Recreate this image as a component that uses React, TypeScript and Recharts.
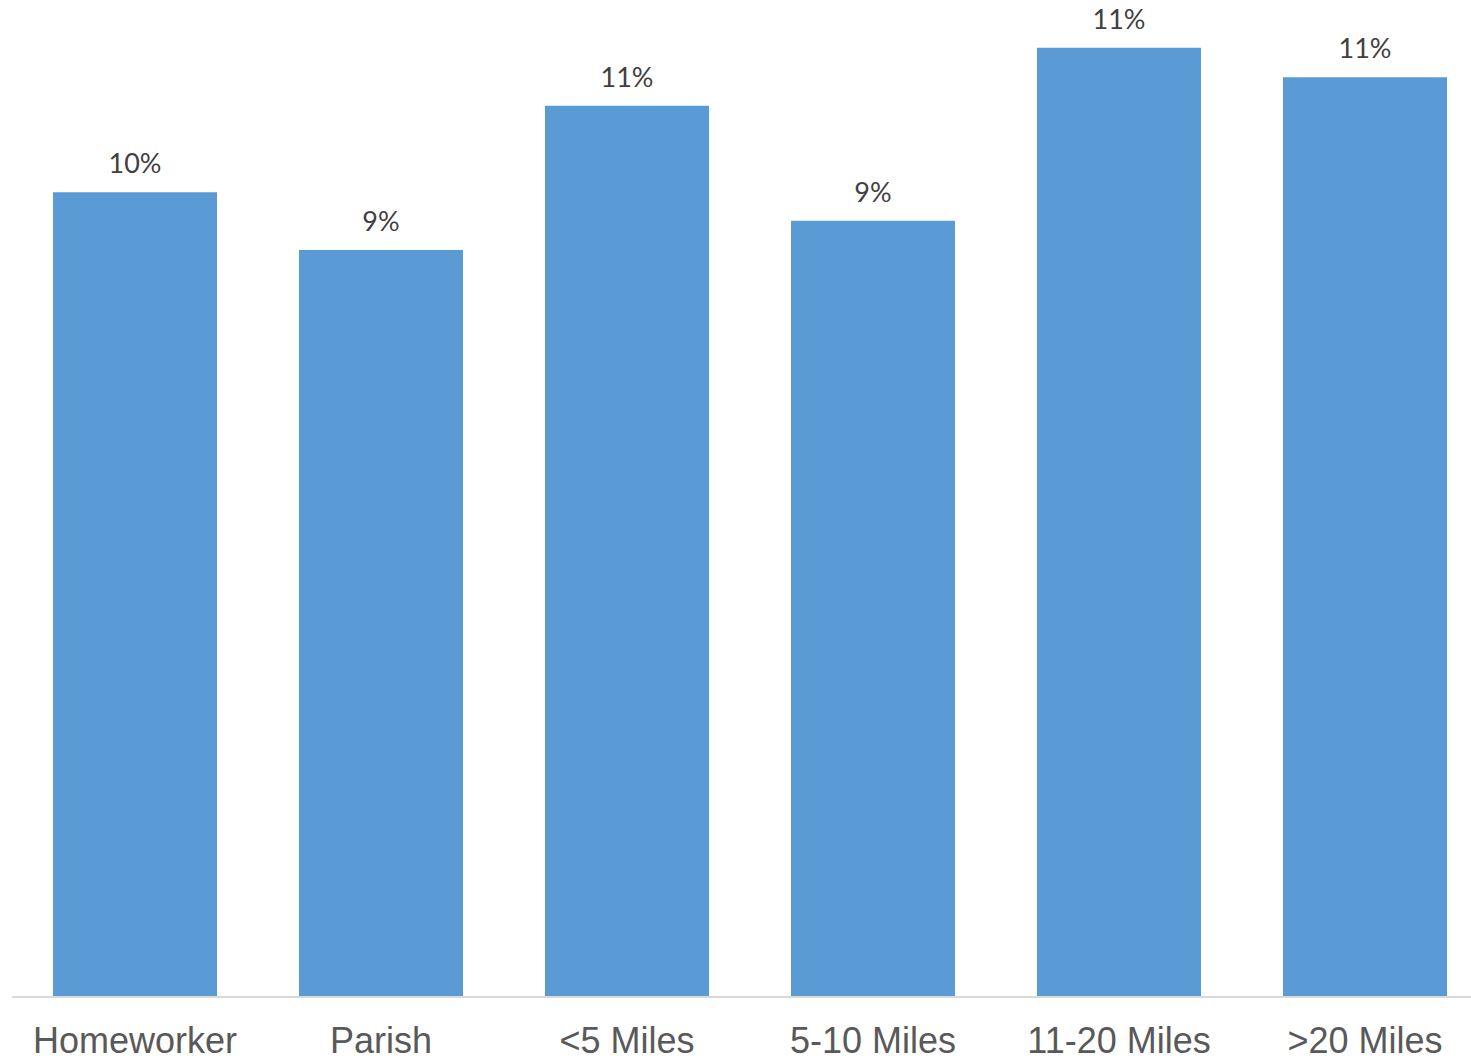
import { BarChart, Bar, XAxis, YAxis, LabelList } from "recharts";

const CATEGORIES = ["Homeworker", "Parish", "<5 Miles", "5-10 Miles", "11-20 Miles", ">20 Miles"];

// share of respondents, % (labels are shown rounded)
const SHARES = [9.59, 8.9, 10.62, 9.25, 11.31, 10.96];

const data = CATEGORIES.map((name, i) => ({ name, share: SHARES[i] }));

const BAR_COLOR = "#5B9BD5";

export default function App() {
  return (
    <div
      style={{
        position: "absolute",
        left: 0,
        top: 0,
        width: 1471,
        height: 1058,
        overflow: "hidden",
        background: "#fff",
      }}
    >
      <BarChart
        width={1488}
        height={1058}
        data={data}
        margin={{ top: 5, right: 0, bottom: 0, left: 12 }}
      >
        <XAxis
          dataKey="name"
          height={61}
          interval={0}
          tickLine={false}
          tickSize={0}
          tickMargin={30}
          axisLine={{ stroke: "#d9d9d9", strokeWidth: 2 }}
          tick={{ fontSize: 36, fill: "#595959", fontFamily: "Liberation Sans, Arial, sans-serif" }}
        />
        <YAxis hide domain={[0, 11.82]} />
        <Bar dataKey="share" fill={BAR_COLOR} barSize={164} isAnimationActive={false}>
          <LabelList
            dataKey="share"
            position="top"
            offset={19}
            formatter={(v: number) => `${Math.round(v)}%`}
            style={{ fontSize: 27, fill: "#404040", fontFamily: "Lato, sans-serif" }}
          />
        </Bar>
      </BarChart>
    </div>
  );
}
